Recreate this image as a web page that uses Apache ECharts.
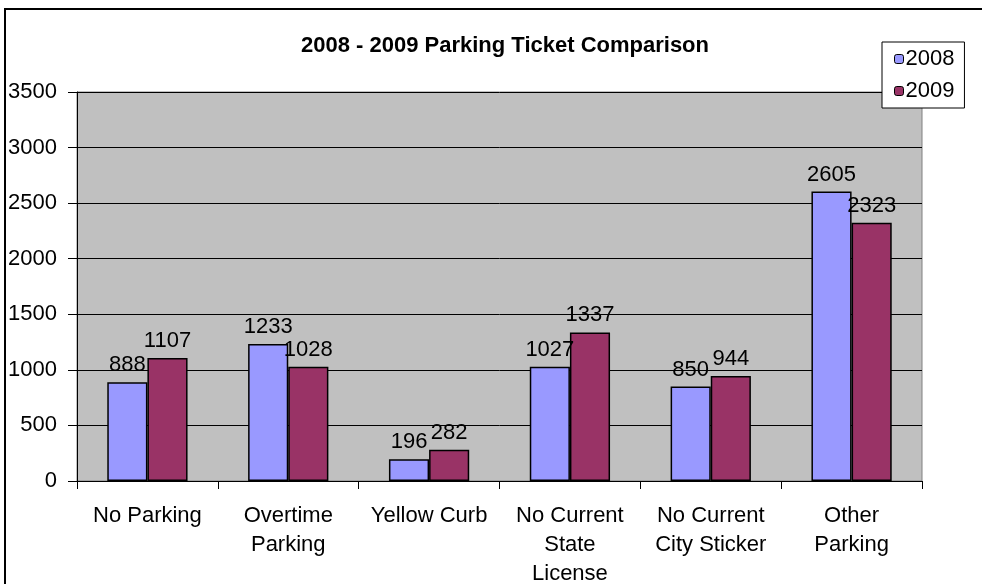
<!DOCTYPE html>
<html>
<head>
<meta charset="utf-8">
<script src="https://cdn.jsdelivr.net/npm/echarts@6/dist/echarts.min.js"></script>
<style>
html,body{margin:0;padding:0;background:#fff;}
#chart{width:982px;height:584px;}
</style>
</head>
<body>
<div id="chart"></div>
<script>
const categories = ['No Parking', 'Overtime\nParking', 'Yellow Curb', 'No Current\nState\nLicense', 'No Current\nCity Sticker', 'Other\nParking'];
const seriesNames = ['2008', '2009'];
const values2008 = [888, 1233, 196, 1027, 850, 2605];
const values2009 = [1107, 1028, 282, 1337, 944, 2323];
const yTicks = [0, 500, 1000, 1500, 2000, 2500, 3000, 3500];

const FONT = '"Liberation Sans", Arial, sans-serif';
const chart = echarts.init(document.getElementById('chart'));

function barSeries(name, data, color) {
  return {
    name: name,
    type: 'bar',
    data: data,
    barGap: '0%',
    barCategoryGap: '43%',
    itemStyle: { color: color, borderColor: '#000', borderWidth: 1.5 },
    label: {
      show: true, position: 'top', distance: 6,
      color: '#000', fontSize: 22, fontFamily: FONT
    },
    animation: false
  };
}

chart.setOption({
  animation: false,
  title: {
    text: '2008 - 2009 Parking Ticket Comparison',
    left: 500, top: 30, textAlign: 'center',
    textStyle: { fontSize: 22, fontWeight: 'bold', color: '#000', fontFamily: FONT }
  },
  legend: {
    data: seriesNames,
    orient: 'vertical',
    left: 882, top: 42,
    padding: [6, 10, 6, 12],
    itemWidth: 9, itemHeight: 9, itemGap: 10,
    backgroundColor: '#fff',
    borderColor: '#000', borderWidth: 1,
    textStyle: { fontSize: 22, color: '#000', fontFamily: FONT, padding: [0, 0, 0, -3] },
    itemStyle: { borderColor: '#000', borderWidth: 1 }
  },
  graphic: [{
    type: 'rect',
    shape: { x: 5, y: 9, width: 1200, height: 1000 },
    style: { fill: 'none', stroke: '#000', lineWidth: 2 },
    z: -1
  }],
  grid: {
    left: 77, right: 60, top: 92, bottom: 103,
    outerBoundsMode: 'none',
    containLabel: false,
    show: true, backgroundColor: '#C0C0C0', borderColor: '#808080', borderWidth: 1
  },
  xAxis: {
    type: 'category',
    data: categories,
    axisLine: { lineStyle: { color: '#000', width: 1 } },
    axisTick: { show: true, length: 8, lineStyle: { color: '#000' } },
    axisLabel: { color: '#000', fontSize: 22, fontFamily: FONT, margin: 20, lineHeight: 29, interval: 0 }
  },
  yAxis: {
    type: 'value',
    min: yTicks[0], max: yTicks[yTicks.length - 1], interval: 500,
    axisLine: { show: true, lineStyle: { color: '#000' } },
    axisTick: { show: true, length: 9, lineStyle: { color: '#000' } },
    axisLabel: { color: '#000', fontSize: 22, fontFamily: FONT, margin: 20, formatter: v => String(v) },
    splitLine: { show: true, lineStyle: { color: '#000', width: 1 } }
  },
  series: [
    barSeries(seriesNames[0], values2008, '#9999FF'),
    barSeries(seriesNames[1], values2009, '#993366')
  ]
});
</script>
</body>
</html>
